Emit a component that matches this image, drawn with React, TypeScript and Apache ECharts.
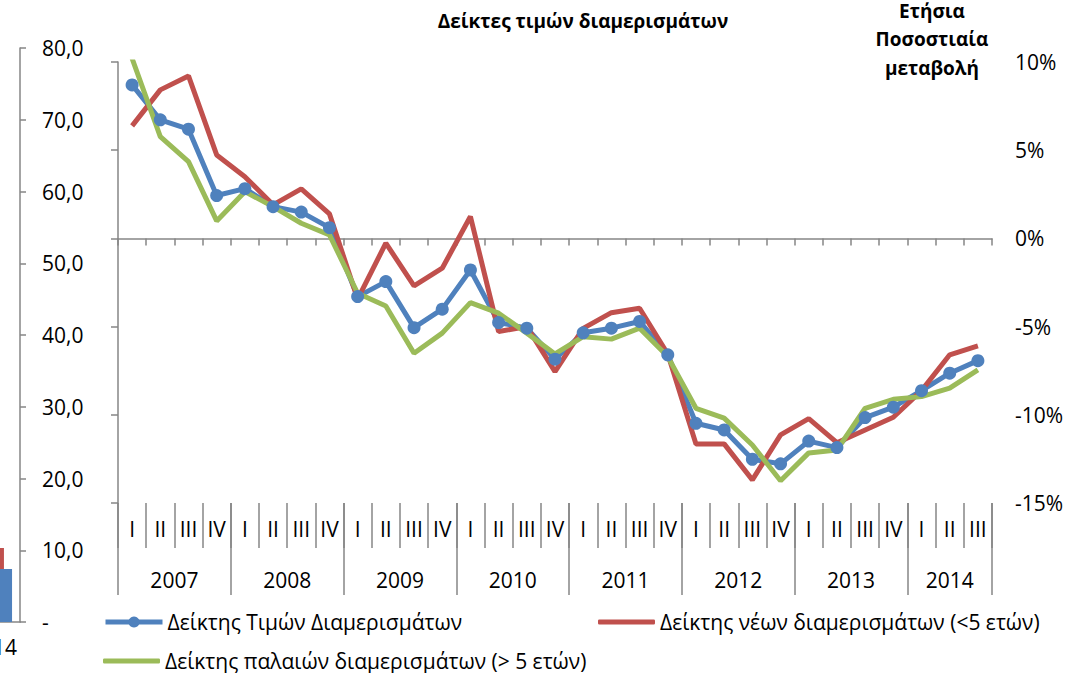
import React, { useEffect, useRef } from "react";
import * as echarts from "echarts";

const quarters = [
  "I", "II", "III", "IV", "I", "II", "III", "IV", "I", "II", "III", "IV",
  "I", "II", "III", "IV", "I", "II", "III", "IV", "I", "II", "III", "IV",
  "I", "II", "III", "IV", "I", "II", "III",
];
const years = ["2007", "2008", "2009", "2010", "2011", "2012", "2013", "2014"];

const priceIndex = [
  8.7, 6.72, 6.19, 2.43, 2.82, 1.8, 1.49, 0.61, -3.3, -2.45, -5.06, -4.01,
  -1.79, -4.77, -5.09, -6.85, -5.35, -5.09, -4.71, -6.6, -10.48, -10.86,
  -12.52, -12.78, -11.49, -11.86, -10.16, -9.57, -8.63, -7.64, -6.93,
];
const newIndex = [
  6.38, 8.42, 9.21, 4.73, 3.5, 1.9, 2.81, 1.39, -3.44, -0.27, -2.69, -1.69,
  1.24, -5.28, -5.0, -7.55, -5.1, -4.21, -3.96, -6.55, -11.65, -11.65,
  -13.69, -11.14, -10.22, -11.58, -10.86, -10.14, -8.63, -6.6, -6.09,
];
const oldIndex = [
  10.2, 5.77, 4.35, 0.99, 2.65, 1.8, 0.86, 0.2, -3.11, -3.83, -6.51, -5.37,
  -3.64, -4.24, -5.37, -6.55, -5.57, -5.71, -5.09, -6.7, -9.63, -10.19,
  -11.71, -13.74, -12.16, -11.99, -9.63, -9.12, -8.97, -8.49, -7.45,
];

const seriesNames = [
  "Δείκτης Τιμών Διαμερισμάτων",
  "Δείκτης νέων διαμερισμάτων (<5 ετών)",
  "Δείκτης παλαιών διαμερισμάτων (> 5 ετών)",
];
const percentTicks = [-15, -10, -5, 0, 5, 10];

// partially visible neighbouring chart (left edge)
const sideCategories = ["2014"];
const sideRed = [10.3];
const sideBlue = [7.4];

const BLUE = "#4F81BD";
const RED = "#C0504D";
const GREEN = "#9BBB59";
const GREY = "#868686";
const FONT = "'Open Sans', 'Noto Sans', sans-serif";
const FS = 21;

export default function App() {
  const ref = useRef<HTMLDivElement>(null);

  useEffect(() => {
    if (!ref.current) return;
    const chart = echarts.init(ref.current, null, { renderer: "svg" });

    const starts: number[] = [];
    quarters.forEach((q, i) => {
      if (q === "I") starts.push(i);
    });
    const centers = starts.map((s, k) => {
      const e = k + 1 < starts.length ? starts[k + 1] : quarters.length;
      return (s + e) / 2;
    });

    const legendBase = {
      itemWidth: 57,
      itemHeight: 14,
      itemGap: 0,
      textStyle: { fontFamily: FONT, fontSize: FS, color: "#000", lineHeight: 22 },
      padding: 0,
    };
    const barIcon = "roundRect";

    const option: any = {
      animation: false,
      textStyle: { fontFamily: FONT },
      grid: [
        { left: 118, right: 77, top: 62, bottom: 170, containLabel: false, outerBoundsMode: "none" },
        { left: -34, width: 54, top: 48, bottom: 51, containLabel: false, outerBoundsMode: "none" },
      ],
      legend: [
        {
          ...legendBase,
          data: [seriesNames[0]],
          left: 103,
          top: 611,
          lineStyle: { width: 5 },
        },
        {
          ...legendBase,
          data: [{ name: seriesNames[1], icon: barIcon }],
          itemHeight: 5,
          left: 598,
          top: 611,
        },
        {
          ...legendBase,
          data: [{ name: seriesNames[2], icon: barIcon }],
          itemHeight: 5,
          left: 103,
          top: 650,
        },
      ],
      xAxis: [
        {
          type: "category",
          gridIndex: 0,
          data: quarters,
          axisLine: { onZero: true, lineStyle: { color: GREY, width: 1.5 } },
          axisTick: { show: true, interval: 0, length: 7, lineStyle: { color: GREY, width: 1.5 } },
          axisLabel: { show: false },
          splitLine: { show: false },
        },
        {
          type: "category",
          gridIndex: 0,
          data: quarters,
          position: "bottom",
          offset: 0,
          axisLine: { show: false, onZero: false },
          axisTick: { show: true, interval: 0, length: 45, lineStyle: { color: GREY, width: 1.5 } },
          axisLabel: { show: true, interval: 0, margin: 15, fontSize: FS, color: "#000", fontFamily: FONT },
          splitLine: { show: false },
        },
        {
          type: "category",
          gridIndex: 0,
          data: quarters,
          position: "bottom",
          offset: 0,
          axisLine: { show: false, onZero: false },
          axisTick: {
            show: true,
            interval: (i: number) => quarters[i] === "I",
            length: 92,
            lineStyle: { color: GREY, width: 1.5 },
          },
          axisLabel: { show: false },
          splitLine: { show: false },
        },
        {
          type: "value",
          gridIndex: 0,
          min: 0,
          max: quarters.length,
          interval: 0.5,
          position: "bottom",
          offset: 0,
          axisLine: { show: false, onZero: false },
          axisTick: { show: false },
          splitLine: { show: false },
          axisLabel: {
            show: true,
            margin: 66,
            fontSize: FS,
            color: "#000",
            fontFamily: FONT,
            showMinLabel: true,
            showMaxLabel: true,
            formatter: (v: number) => {
              const k = centers.findIndex((c) => Math.abs(c - v) < 1e-6);
              return k >= 0 ? years[k] : "";
            },
          },
        },
        {
          type: "category",
          gridIndex: 1,
          data: sideCategories,
          axisLine: { lineStyle: { color: GREY, width: 1.5 } },
          axisTick: { show: false },
          axisLabel: { margin: 14, fontSize: FS, color: "#000", fontFamily: FONT },
        },
      ],
      yAxis: [
        {
          type: "value",
          gridIndex: 0,
          min: percentTicks[0],
          max: percentTicks[percentTicks.length - 1],
          interval: 5,
          position: "left",
          axisLine: { show: true, lineStyle: { color: GREY, width: 1.5 } },
          axisTick: { show: true, length: 7, lineStyle: { color: GREY, width: 1.5 } },
          axisLabel: { show: false },
          splitLine: { show: false },
        },
        {
          type: "value",
          gridIndex: 0,
          min: percentTicks[0],
          max: percentTicks[percentTicks.length - 1],
          interval: 5,
          position: "right",
          axisLine: { show: false },
          axisTick: { show: false },
          splitLine: { show: false },
          axisLabel: {
            margin: 23,
            fontSize: FS,
            color: "#000",
            fontFamily: FONT,
            formatter: (v: number) => `${v}%`,
          },
        },
        {
          type: "value",
          gridIndex: 1,
          min: 0,
          max: 80,
          interval: 10,
          position: "right",
          axisLine: { show: true, lineStyle: { color: GREY, width: 1.5 } },
          axisTick: { show: true, length: 6, lineStyle: { color: GREY, width: 1.5 } },
          splitLine: { show: false },
          axisLabel: {
            margin: 22,
            fontSize: FS,
            color: "#000",
            fontFamily: FONT,
            formatter: (v: number) => (v === 0 ? "-" : v.toFixed(1).replace(".", ",")),
          },
        },
      ],
      series: [
        {
          name: seriesNames[0],
          type: "line",
          xAxisIndex: 0,
          yAxisIndex: 0,
          data: priceIndex,
          symbol: "circle",
          symbolSize: 13,
          showAllSymbol: true,
          lineStyle: { color: BLUE, width: 5 },
          itemStyle: { color: BLUE },
          clip: true,
        },
        {
          name: seriesNames[1],
          type: "line",
          xAxisIndex: 0,
          yAxisIndex: 0,
          data: newIndex,
          symbol: "none",
          lineStyle: { color: RED, width: 5 },
          itemStyle: { color: RED },
          clip: true,
        },
        {
          name: seriesNames[2],
          type: "line",
          xAxisIndex: 0,
          yAxisIndex: 0,
          data: oldIndex,
          symbol: "none",
          lineStyle: { color: GREEN, width: 5 },
          itemStyle: { color: GREEN },
          clip: true,
        },
        {
          name: "side-red",
          type: "bar",
          xAxisIndex: 4,
          yAxisIndex: 2,
          data: sideRed,
          barWidth: 30,
          barGap: "-73%",
          itemStyle: { color: RED },
        },
        {
          name: "side-blue",
          type: "bar",
          xAxisIndex: 4,
          yAxisIndex: 2,
          data: sideBlue,
          barWidth: 30,
          barGap: "-73%",
          itemStyle: { color: BLUE },
        },
      ],
      graphic: [
        {
          type: "text",
          x: 583,
          y: 21,
          style: {
            text: "Δείκτες τιμών διαμερισμάτων",
            align: "center",
            verticalAlign: "middle",
            fontFamily: FONT,
            fontSize: 19,
            fontWeight: "bold",
            fill: "#000",
          },
        },
        {
          type: "text",
          x: 932,
          y: 39,
          style: {
            text: "Ετήσια\nΠοσοστιαία\nμεταβολή",
            align: "center",
            verticalAlign: "middle",
            lineHeight: 28.5,
            fontFamily: FONT,
            fontSize: 19,
            fontWeight: "bold",
            fill: "#000",
          },
        },
      ],
    };

    chart.setOption(option);
    return () => chart.dispose();
  }, []);

  return (
    <div
      ref={ref}
      style={{ position: "absolute", left: 0, top: 0, width: 1069, height: 673 }}
    />
  );
}
